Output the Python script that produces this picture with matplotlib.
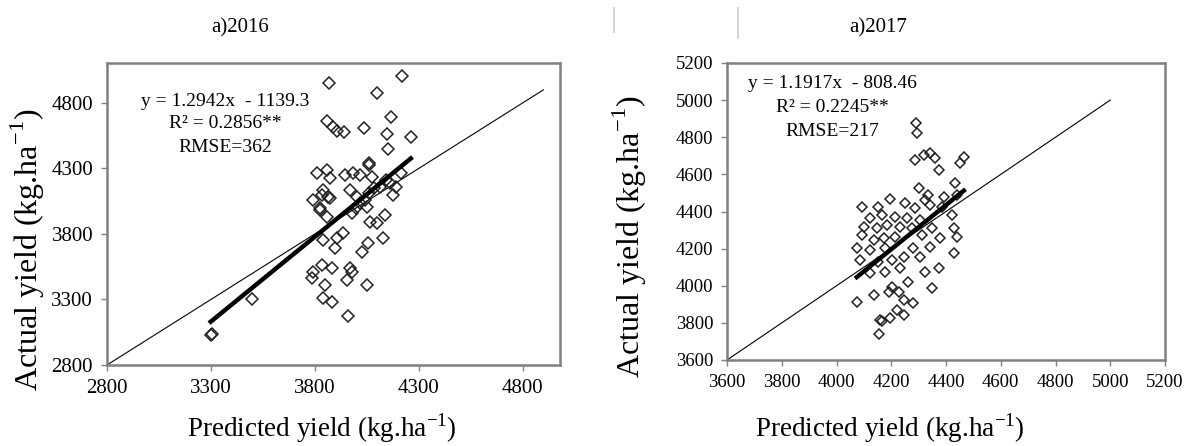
import matplotlib
matplotlib.use("Agg")
import matplotlib.pyplot as plt
from matplotlib.lines import Line2D

plt.rcParams['font.family'] = ['Liberation Serif', 'DejaVu Serif']

# 2016 : predicted vs actual yield (kg/ha)
pred_2016 = [3869, 4222, 4097, 4169, 3857, 3889, 3905, 3940, 4036, 4148, 4262, 4153, 4062,
             3299, 3303, 3496,
             3792, 3833, 3873, 3825, 3857, 4137, 4065, 4097, 3937, 3905, 3897, 3840, 4129,
             4057, 4025, 3833, 3792, 3785, 3881, 3969, 3977, 3849, 3953, 4052, 3840, 3881, 3961,
             3809, 3857, 3873, 3945, 3985, 4017, 4062, 4073, 3840, 3865, 3969, 4001, 4017,
             4113, 4161, 4193, 4217, 4177, 3825, 4049, 3977, 4145, 4040, 4060, 4085, 4000]
act_2016 = [4949, 5005, 4873, 4694, 4662, 4618, 4585, 4580, 4611, 4560, 4542, 4448, 4339,
            3029, 3035, 3301,
            4059, 4097, 4072, 3996, 3932, 3945, 3893, 3881, 3805, 3767, 3690, 3754, 3767,
            3729, 3664, 3563, 3512, 3462, 3538, 3538, 3512, 3410, 3449, 3410, 3309, 3283, 3174,
            4263, 4288, 4224, 4250, 4263, 4250, 4326, 4237, 4135, 4084, 4135, 4084, 4034,
            4160, 4186, 4160, 4263, 4097, 3983, 4008, 3957, 4212, 4060, 4110, 4150, 4000]
slope_2016, icpt_2016 = 1.2942, -1139.3

# 2017
pred_2017 = [4291, 4294, 4288, 4318, 4342, 4361, 4373, 4465, 4452, 4434, 4300, 4336, 4391, 4440,
             4093, 4153, 4196, 4251, 4288, 4324, 4342, 4385, 4123, 4166, 4214, 4257, 4306, 4422,
             4099, 4148, 4184, 4233, 4276, 4349, 4428, 4093, 4136, 4173, 4214, 4312, 4379, 4440,
             4074, 4123, 4178, 4281, 4342, 4428, 4086, 4153, 4202, 4245, 4306, 4123, 4178, 4233,
             4324, 4373, 4202, 4227, 4190, 4136, 4263, 4349, 4074, 4245, 4281, 4221, 4160, 4196,
             4245, 4156, 4165]
act_2017 = [4875, 4821, 4678, 4705, 4713, 4686, 4624, 4695, 4660, 4552, 4525, 4489, 4480, 4489,
            4426, 4426, 4466, 4444, 4417, 4462, 4435, 4426, 4363, 4381, 4372, 4363, 4354, 4381,
            4318, 4309, 4327, 4318, 4309, 4309, 4309, 4273, 4247, 4255, 4264, 4273, 4255, 4264,
            4202, 4193, 4202, 4202, 4211, 4175, 4139, 4130, 4139, 4157, 4157, 4067, 4076, 4094,
            4076, 4094, 3995, 3968, 3968, 3950, 4022, 3986, 3914, 3923, 3905, 3869, 3815, 3825,
            3842, 3740, 3810]
slope_2017, icpt_2017 = 1.1917, -808.46

W, H = 1186, 446
fig = plt.figure(figsize=(W / 100, H / 100), dpi=100)


def px(x, y):
    return x / W, 1 - y / H


def style_ax(ax, fs):
    for s in ax.spines.values():
        s.set_color('#808080')
        s.set_linewidth(1.8)
    ax.tick_params(direction='out', length=4, width=1, color='#808080',
                   labelsize=fs, pad=6)


# ---- 2016 ----
ax1 = fig.add_axes([107 / W, (H - 365) / H, 453 / W, 302 / H])
ax1.plot([2800, 4900], [2800, 4900], color='black', lw=0.8)
ax1.plot(pred_2016, act_2016, 'D', ms=6, mfc='none', mec='#222222', mew=1.1)
xs = [min(pred_2016), max(pred_2016)]
ax1.plot(xs, [slope_2016 * v + icpt_2016 for v in xs], color='black', lw=3.2)
ax1.set_xlim(2800, 4980)
ax1.set_ylim(2800, 5105)
ax1.set_xticks([2800, 3300, 3800, 4300, 4800])
ax1.set_yticks([2800, 3300, 3800, 4300, 4800])
style_ax(ax1, 15)

fig.text(*px(225, 102), 'y = 1.2942x  - 1139.3', ha='center', va='center', fontsize=14)
fig.text(*px(225, 123), 'R² = 0.2856**', ha='center', va='center', fontsize=14)
fig.text(*px(225, 147), 'RMSE=362', ha='center', va='center', fontsize=14)

fig.text(*px(240, 28), 'a)2016', ha='center', va='center', fontsize=15)
fig.text(*px(322, 428), 'Predicted yield (kg.ha$^{\\mathregular{-1}}$)', ha='center', va='center',
         fontsize=19.5)
fig.text(*px(28, 250), 'Actual yield (kg.ha$^{\\mathregular{-1}}$)', ha='center', va='center',
         rotation=90, fontsize=23)

# ---- 2017 ----
ax2 = fig.add_axes([727 / W, (H - 360) / H, 438 / W, 297 / H])
ax2.plot([3600, 5000], [3600, 5000], color='black', lw=0.8)
ax2.plot(pred_2017, act_2017, 'D', ms=5.6, mfc='none', mec='#222222', mew=1.1)
xs = [min(pred_2017), max(pred_2017)]
ax2.plot(xs, [slope_2017 * v + icpt_2017 for v in xs], color='black', lw=3.2)
ax2.set_xlim(3600, 5200)
ax2.set_ylim(3600, 5200)
ax2.set_xticks(range(3600, 5201, 200))
ax2.set_yticks(range(3600, 5201, 200))
style_ax(ax2, 13.5)

fig.text(*px(832, 83), 'y = 1.1917x  - 808.46', ha='center', va='center', fontsize=14)
fig.text(*px(832, 108), 'R² = 0.2245**', ha='center', va='center', fontsize=14)
fig.text(*px(832, 132), 'RMSE=217', ha='center', va='center', fontsize=14)

fig.text(*px(878, 28), 'a)2017', ha='center', va='center', fontsize=15)
fig.text(*px(890, 428), 'Predicted yield (kg.ha$^{\\mathregular{-1}}$)', ha='center', va='center',
         fontsize=19.5)
fig.text(*px(630, 237), 'Actual yield (kg.ha$^{\\mathregular{-1}}$)', ha='center', va='center',
         rotation=90, fontsize=23)

# faint separator marks at the top
for xp, y1 in [(614, 32), (738, 38)]:
    fig.add_artist(Line2D([xp / W, xp / W], [1 - 8 / H, 1 - y1 / H], color='#cccccc', lw=1.2))

fig.savefig('out.png', dpi=100)
